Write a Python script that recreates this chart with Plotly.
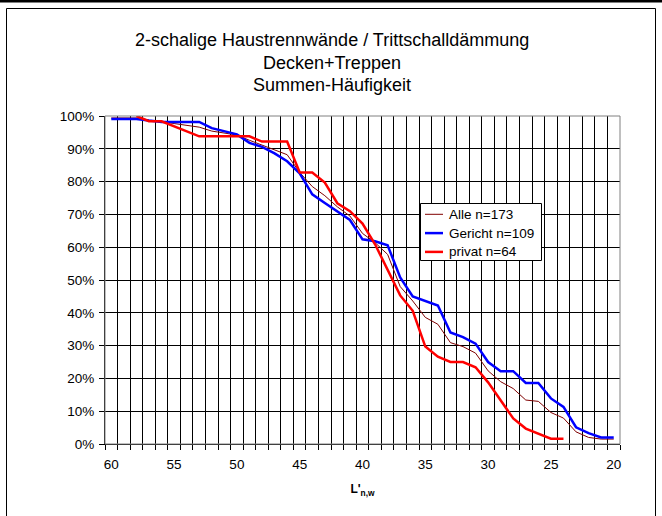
import plotly.graph_objects as go

# ---------------- data ----------------
L_all = list(range(60, 19, -1))            # 60 ... 20
L_privat = list(range(58, 23, -1))         # 58 ... 24

alle = [99.4, 99.4, 99.4, 98.5, 98.3, 97.7, 97.1, 96.6, 95.4, 94.8,
        94.2, 92.6, 91.2, 89.7, 88.2, 82.8, 78.5, 75.7, 72.3, 69.5,
        64.2, 61.4, 57.8, 48.0, 43.6, 38.6, 36.5, 30.9, 29.7, 27.7,
        22.3, 19.0, 16.9, 13.4, 13.0, 9.6, 7.9, 3.7, 2.0, 1.5, 1.5]

gericht = [99.1, 99.1, 99.1, 98.6, 98.2, 98.2, 98.2, 98.2, 96.3, 95.3,
           94.4, 91.8, 90.6, 88.6, 86.2, 82.5, 76.1, 73.5, 71.0, 68.3,
           62.4, 61.8, 60.6, 50.8, 45.0, 43.6, 42.2, 34.0, 32.6, 30.6,
           25.0, 22.2, 22.2, 18.6, 18.6, 13.9, 11.3, 5.1, 3.3, 2.0, 2.0]

privat = [100.0, 98.4, 98.4, 96.9, 95.3, 93.8, 93.8, 93.8, 93.8, 93.8,
          92.2, 92.2, 92.2, 82.8, 82.8, 79.7, 73.4, 71.0, 67.2, 60.9,
          53.1, 45.3, 40.6, 29.7, 26.6, 25.0, 25.0, 23.4, 18.8, 13.3,
          7.8, 4.7, 3.1, 1.6, 1.6]

names = ["Alle n=173", "Gericht n=109", "privat n=64"]
colors = ["#800000", "#0000FF", "#FF0000"]
widths = [1, 2.5, 2.5]
x_ticks = [60, 55, 50, 45, 40, 35, 30, 25, 20]
y_ticks = [0, 10, 20, 30, 40, 50, 60, 70, 80, 90, 100]
title_lines = ["2-schalige Haustrennwände / Trittschalldämmung",
               "Decken+Treppen", "Summen-Häufigkeit"]

FONT = "Liberation Sans, Arial, sans-serif"

fig = go.Figure()
for xs, ys, nm, c, w in zip([L_all, L_all, L_privat], [alle, gericht, privat],
                            names, colors, widths):
    fig.add_trace(go.Scatter(x=xs, y=ys, name=nm, mode="lines",
                             line=dict(color=c, width=w)))

# plot area in pixels: x 105..620, y 116..444
def px(X):
    return (X - 105) / 515.0

def py(Y):
    return (444 - Y) / 328.0

annotations = []
for txt, yc in zip(title_lines, [40, 62.5, 85]):
    annotations.append(dict(text=txt, x=px(331.5), y=py(yc), xref="paper", yref="paper",
                            xanchor="center", yanchor="middle", showarrow=False,
                            font=dict(family=FONT, size=18, color="black")))

shapes = [
    # top black bar of the page
    dict(type="line", xref="paper", yref="paper", x0=px(-5), x1=px(670),
         y0=py(1), y1=py(1), line=dict(color="black", width=3)),
    # outer chart frame
    dict(type="rect", xref="paper", yref="paper", x0=px(6.5), x1=px(655.5),
         y0=py(8.5), y1=py(530), line=dict(color="black", width=1)),
    # plot area border (gray)
    dict(type="rect", xref="paper", yref="paper", x0=0, x1=1, y0=0, y1=1,
         line=dict(color="#808080", width=1), layer="above"),
    # legend box
    dict(type="rect", xref="paper", yref="paper", x0=px(420.5), x1=px(541.5),
         y0=py(203.5), y1=py(260.5), fillcolor="white",
         line=dict(color="black", width=1), layer="above"),
]

# legend entries (sample line + label)
for i, (nm, c, w) in enumerate(zip(names, colors, widths)):
    yrow = 214.3 + i * 18.8
    shapes.append(dict(type="line", xref="paper", yref="paper",
                       x0=px(425), x1=px(443), y0=py(yrow), y1=py(yrow),
                       line=dict(color=c, width=w), layer="above"))
    annotations.append(dict(text=nm, x=px(447), y=py(yrow), xref="paper", yref="paper",
                            xanchor="left", yanchor="middle", showarrow=False,
                            font=dict(family=FONT, size=13.5, color="black")))

fig.update_layout(
    width=662, height=516, autosize=False,
    margin=dict(l=105, r=42, t=116, b=72),
    paper_bgcolor="white", plot_bgcolor="white",
    font=dict(family=FONT, size=13.5, color="black"),
    showlegend=False,
    annotations=annotations,
    shapes=shapes,
)

fig.update_xaxes(
    range=[60.5, 19.5], tickmode="array", tickvals=x_ticks,
    ticktext=[str(v) for v in x_ticks], ticks="", showgrid=False,
    ticklabelstandoff=8,
    zeroline=False, showline=True, linecolor="black", linewidth=1,
    minor=dict(tickmode="linear", tick0=0.5, dtick=1, ticks="outside",
               ticklen=5, tickcolor="black", tickwidth=1,
               showgrid=True, gridcolor="black", gridwidth=1),
    title=dict(text="<b>L'<sub>n,w</sub></b>", font=dict(family=FONT, size=12),
               standoff=13),
    tickfont=dict(family=FONT, size=13.5, color="black"),
)
fig.update_yaxes(
    range=[0, 100], tickmode="array", tickvals=y_ticks,
    ticktext=[f"{v}%" for v in y_ticks], ticks="outside", ticklen=5,
    tickcolor="black", showgrid=True, gridcolor="black", gridwidth=1,
    zeroline=False, showline=True, linecolor="black", linewidth=1,
    ticklabelstandoff=2,
    tickfont=dict(family=FONT, size=13.5, color="black"),
)

fig.write_html("out.html", config={"displayModeBar": False},
               post_script="document.body.style.margin='0px';document.body.style.padding='0px';")
